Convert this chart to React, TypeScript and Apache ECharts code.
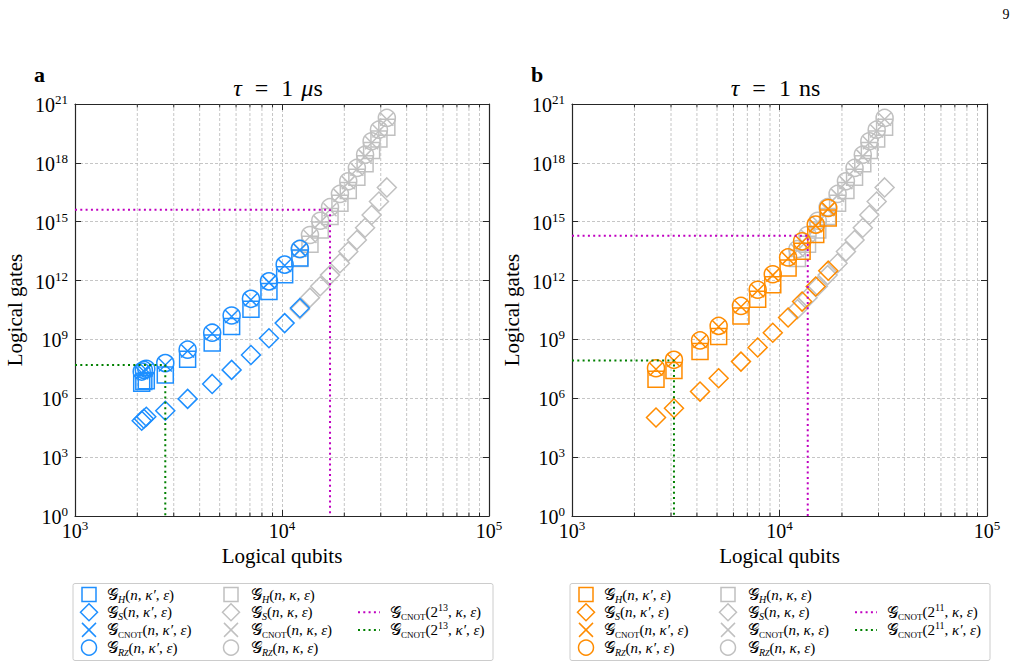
import React, { useEffect, useRef } from "react";
import * as echarts from "echarts";

// Axis ranges (logical qubits, logical gates)
const xMin = 1e3;
const xMax = 1e5;
const yMin = 1;
const yMax = 1e21;
const yDecadeStep = 3;

// Minor log ticks on the qubit axis
const minorMultipliers = [2, 3, 4, 5, 6, 7, 8, 9];
const minorDecades = [1e3, 1e4];

// τ = 1 μs, κ′ instances
const muQubits = [2100, 2150, 2210, 2730, 3500, 4600, 5710, 7080, 8650, 10300, 12200];
const muHadamard = [5.9e6, 7.1e6, 7.9e6, 1.55e7, 9.8e7, 6.5e8, 4.6e9, 3.5e10, 2.75e11, 2.0e12, 1.41e13];
const muPhase = [7.2e4, 9.1e4, 1.15e5, 2.3e5, 9.3e5, 5.4e6, 2.8e7, 1.62e8, 1.15e9, 6.8e9, 4.0e10];
const muCnot = [2.0e7, 2.4e7, 2.75e7, 5.0e7, 2.6e8, 2.0e9, 1.48e10, 1.05e11, 8.1e11, 5.8e12, 3.6e13];
const muRz = [2.3e7, 2.8e7, 3.2e7, 6.2e7, 3.0e8, 2.2e9, 1.66e10, 1.17e11, 9.1e11, 6.5e12, 4.1e13];

// τ = 1 ns, κ′ instances
const nsQubits = [2540, 3100, 4140, 5090, 6520, 7850, 9280, 11000, 12850, 14950, 17180];
const nsHadamard = [9.3e6, 2.6e7, 2.4e8, 1.41e9, 1.58e10, 1.12e11, 6.2e11, 4.4e12, 3.1e13, 2.2e14, 1.55e15];
const nsPhase = [1.05e5, 3.1e5, 2.2e6, 1.05e7, 7.4e7, 3.9e8, 2.2e9, 1.32e10, 8.5e10, 5.0e11, 3.2e12];
const nsCnot = [3.0e7, 8.5e7, 7.9e8, 4.4e9, 4.6e10, 3.0e11, 1.9e12, 1.35e13, 8.9e13, 6.3e14, 4.5e15];
const nsRz = [3.4e7, 9.1e7, 8.9e8, 4.9e9, 5.1e10, 3.4e11, 2.1e12, 1.51e13, 1.0e14, 7.1e14, 5.0e15];

// κ instances (shared by both panels)
const kappaQubits = [12200, 13650, 15300, 17060, 19050, 20900, 23000, 25200, 27100, 29400, 32100];
const kappaHadamard = [1.35e13, 7.1e13, 3.8e14, 1.86e15, 8.7e15, 3.9e16, 1.86e17, 8.9e17, 4.3e18, 1.66e19, 6.6e19];
const kappaPhase = [3.5e10, 1.35e11, 5.1e11, 1.9e12, 7.6e12, 3.0e13, 1.17e14, 4.9e14, 2.2e15, 1.07e16, 5.6e16];
const kappaCnot = [3.4e13, 1.78e14, 9.5e14, 4.1e15, 2.2e16, 9.8e16, 4.7e17, 2.2e18, 1.07e19, 4.2e19, 1.66e20];
const kappaRz = [4.0e13, 2.1e14, 1.12e15, 5.5e15, 2.6e16, 1.15e17, 5.5e17, 2.6e18, 1.26e19, 4.9e19, 1.95e20];

// CNOT reference points: [κ, κ′]
const muRefQubits = [17060, 2730];
const muRefGates = [4.1e15, 5.0e7];
const nsRefQubits = [13680, 3100];
const nsRefGates = [1.95e14, 8.5e7];

const SERIF = '"Liberation Serif", "DejaVu Serif", serif';
const AXIS = "#262626";
const GRID = "#b8b8b8";
const GREY = "#c0c0c0";
const MAGENTA = "#c000c0";
const GREEN = "#008000";

const lg = Math.log10;

const tickRich = {
  b: { fontSize: 20, fontFamily: SERIF, color: "#000", lineHeight: 22, verticalAlign: "bottom" },
  s: { fontSize: 13, fontFamily: SERIF, color: "#000", lineHeight: 16, verticalAlign: "top" },
};
const pow10Label = (v: number) => `{b|10}{s|${Math.round(v)}}`;

const legendRich = {
  g: { fontSize: 16, fontFamily: SERIF, color: "#000", lineHeight: 19, verticalAlign: "middle" },
  t: { fontSize: 15, fontFamily: SERIF, color: "#000", lineHeight: 19, verticalAlign: "middle" },
  i: { fontSize: 15, fontFamily: SERIF, fontStyle: "italic", color: "#000", lineHeight: 19, verticalAlign: "middle" },
  sb: { fontSize: 10, fontFamily: SERIF, fontStyle: "italic", color: "#000", lineHeight: 10, verticalAlign: "bottom" },
  sc: { fontSize: 9, fontFamily: SERIF, color: "#000", lineHeight: 10, verticalAlign: "bottom" },
  ssb: { fontSize: 8, fontFamily: SERIF, fontStyle: "italic", color: "#000", lineHeight: 6, verticalAlign: "bottom" },
  sp: { fontSize: 10, fontFamily: SERIF, color: "#000", lineHeight: 11, verticalAlign: "top" },
};

const args = (k: string) => `{t|(}{i|n}{t|, }{i|${k}}{t|, }{i|ε}{t|)}`;
const gH = (k: string) => `{g|𝒢}{sb|H}${args(k)}`;
const gS = (k: string) => `{g|𝒢}{sb|S}${args(k)}`;
const gC = (k: string) => `{g|𝒢}{sc|CNOT}${args(k)}`;
const gR = (k: string) => `{g|𝒢}{sb|R}{ssb|Z}${args(k)}`;
const gRef = (exp: number, k: string) =>
  `{g|𝒢}{sc|CNOT}{t|(2}{sp|${exp}}{t|, }{i|${k}}{t|, }{i|ε}{t|)}`;

const panels = [
  {
    left: 75, width: 414, color: "#1e8fff", letter: "a", unit: "μ", unitRest: "s", exp: 13,
    qubits: muQubits, H: muHadamard, S: muPhase, C: muCnot, R: muRz,
    refQubits: muRefQubits, refGates: muRefGates, legendLeft: 73,
  },
  {
    left: 572, width: 415, color: "#ff8c00", letter: "b", unit: "", unitRest: "ns", exp: 11,
    qubits: nsQubits, H: nsHadamard, S: nsPhase, C: nsCnot, R: nsRz,
    refQubits: nsRefQubits, refGates: nsRefGates, legendLeft: 570,
  },
];

const GRID_TOP = 104;
const GRID_HEIGHT = 412;

const CROSS = "path://M0 0L10 10M10 0L0 10";

const toPoints = (xs: number[], ys: number[]) => xs.map((x, k) => [lg(x), lg(ys[k])]);

function markerSeries(name: string, xi: number, xs: number[], ys: number[], symbol: string, size: number, color: string, z: number) {
  return {
    name,
    type: "scatter",
    xAxisIndex: xi,
    yAxisIndex: xi,
    data: toPoints(xs, ys),
    symbol,
    symbolSize: size,
    z,
    silent: true,
    itemStyle: { color: "rgba(0,0,0,0)", borderColor: color, borderWidth: 1.5, opacity: 1 },
  };
}

function legendSymbol(kind: string, cx: number, cy: number, color: string) {
  const style = { fill: "none", stroke: color, lineWidth: 1.5 };
  if (kind === "rect") return [{ type: "rect", shape: { x: cx - 7, y: cy - 7, width: 14, height: 14 }, style }];
  if (kind === "diamond")
    return [{ type: "polygon", shape: { points: [[cx, cy - 8.5], [cx + 8.5, cy], [cx, cy + 8.5], [cx - 8.5, cy]] }, style }];
  if (kind === "cross")
    return [
      { type: "line", shape: { x1: cx - 7, y1: cy - 7, x2: cx + 7, y2: cy + 7 }, style },
      { type: "line", shape: { x1: cx + 7, y1: cy - 7, x2: cx - 7, y2: cy + 7 }, style },
    ];
  return [{ type: "circle", shape: { cx, cy, r: 7.5 }, style }];
}

function buildOption() {
  const grid: any[] = [];
  const xAxis: any[] = [];
  const yAxis: any[] = [];
  const series: any[] = [];
  const graphic: any[] = [];

  const minorX = minorDecades.flatMap((d) => minorMultipliers.map((m) => [lg(m * d), lg(yMin)]));

  panels.forEach((p, i) => {
    grid.push({ left: p.left, width: p.width, top: GRID_TOP, height: GRID_HEIGHT, containLabel: false });
    const lineStyle = { color: AXIS, width: 1.2 };
    xAxis.push(
      {
        gridIndex: i, type: "value", min: lg(xMin), max: lg(xMax), interval: 1,
        axisLine: { show: true, onZero: false, lineStyle },
        axisTick: { show: true, inside: true, length: 6, lineStyle: { color: AXIS, width: 1 } },
        axisLabel: { formatter: pow10Label, rich: tickRich, margin: 3 },
        splitLine: { show: true, lineStyle: { type: [3, 2], color: GRID, width: 0.8 } },
        name: "Logical qubits", nameLocation: "middle", nameGap: 23,
        nameTextStyle: { fontFamily: SERIF, fontSize: 21, color: "#000" },
      },
      {
        gridIndex: i, type: "value", position: "top", min: lg(xMin), max: lg(xMax), interval: 1,
        axisLine: { show: true, onZero: false, lineStyle },
        axisTick: { show: true, inside: true, length: 6, lineStyle: { color: AXIS, width: 1 } },
        axisLabel: { show: false }, splitLine: { show: false },
      }
    );
    yAxis.push(
      {
        gridIndex: i, type: "value", min: lg(yMin), max: lg(yMax), interval: yDecadeStep,
        axisLine: { show: true, onZero: false, lineStyle },
        axisTick: { show: true, inside: true, length: 6, lineStyle: { color: AXIS, width: 1 } },
        axisLabel: { formatter: pow10Label, rich: tickRich, margin: 7 },
        splitLine: { show: true, lineStyle: { type: [3, 2], color: GRID, width: 0.8 } },
        name: "Logical gates", nameLocation: "middle", nameGap: 50, nameRotate: 90,
        nameTextStyle: { fontFamily: SERIF, fontSize: 21, color: "#000" },
      },
      {
        gridIndex: i, type: "value", position: "right", min: lg(yMin), max: lg(yMax), interval: yDecadeStep,
        axisLine: { show: true, onZero: false, lineStyle },
        axisTick: { show: true, inside: true, length: 6, lineStyle: { color: AXIS, width: 1 } },
        axisLabel: { show: false }, splitLine: { show: false },
      }
    );

    const xi = i * 2;

    // minor grid lines and ticks of the log qubit axis
    series.push({
      type: "custom", xAxisIndex: xi, yAxisIndex: xi, data: minorX, z: 1, silent: true,
      renderItem: (_params: any, api: any) => {
        const x = api.value(0);
        const b = api.coord([x, lg(yMin)]);
        const t = api.coord([x, lg(yMax)]);
        return {
          type: "group",
          children: [
            { type: "line", shape: { x1: b[0], y1: b[1], x2: t[0], y2: t[1] }, style: { stroke: GRID, lineWidth: 0.8, lineDash: [3, 2] } },
            { type: "line", shape: { x1: b[0], y1: b[1], x2: b[0], y2: b[1] - 3.5 }, style: { stroke: AXIS, lineWidth: 1 } },
            { type: "line", shape: { x1: t[0], y1: t[1], x2: t[0], y2: t[1] + 3.5 }, style: { stroke: AXIS, lineWidth: 1 } },
          ],
        };
      },
    });

    // κ instances
    series.push(
      markerSeries("kH", xi, kappaQubits, kappaHadamard, "rect", 16, GREY, 3),
      markerSeries("kS", xi, kappaQubits, kappaPhase, "diamond", 19, GREY, 3),
      markerSeries("kC", xi, kappaQubits, kappaCnot, CROSS, 13, GREY, 3),
      markerSeries("kR", xi, kappaQubits, kappaRz, "circle", 17, GREY, 3)
    );
    // κ′ instances
    series.push(
      markerSeries("pH", xi, p.qubits, p.H, "rect", 16, p.color, 4),
      markerSeries("pS", xi, p.qubits, p.S, "diamond", 19, p.color, 4),
      markerSeries("pC", xi, p.qubits, p.C, CROSS, 13, p.color, 4),
      markerSeries("pR", xi, p.qubits, p.R, "circle", 17, p.color, 4)
    );

    // dotted reference guides
    [MAGENTA, GREEN].forEach((c, k) => {
      const n = p.refQubits[k];
      const g = p.refGates[k];
      series.push({
        type: "line", xAxisIndex: xi, yAxisIndex: xi, silent: true, z: 5,
        showSymbol: false, symbol: "none",
        data: [[lg(xMin), lg(g)], [lg(n), lg(g)], [lg(n), lg(yMin)]],
        lineStyle: { color: c, width: 2, type: [2, 3.3] },
      });
    });

    // titles and panel letters
    const cx = p.left + p.width / 2;
    const titleRich = {
      t: { fontSize: 24, fontFamily: SERIF, color: "#000" },
      op: { fontSize: 24, fontFamily: SERIF, color: "#000", padding: [0, 13, 0, 13] },
      gap: { fontSize: 24, fontFamily: SERIF, color: "#000", padding: [0, 8, 0, 0] },
      i: { fontSize: 24, fontFamily: SERIF, fontStyle: "italic", color: "#000" },
    };
    graphic.push(
      {
        type: "text", x: cx - 4, y: 88,
        style: {
          text: p.unit
            ? `{i|τ}{op|=}{gap|1}{i|${p.unit}}{t|${p.unitRest}}`
            : `{i|τ}{op|=}{gap|1}{t|${p.unitRest}}`,
          rich: titleRich,
          align: "center", verticalAlign: "middle",
        },
      },
      {
        type: "text", x: p.left - 41, y: 74,
        style: { text: p.letter, fontSize: 22, fontWeight: "bold", fontFamily: SERIF, fill: "#000", verticalAlign: "middle" },
      }
    );

    // legend box
    const L = p.legendLeft;
    const rowY = [594.5, 612.2, 629.9, 647.6];
    graphic.push({
      type: "rect", shape: { x: L, y: 583.5, width: 420, height: 77, r: 2 },
      style: { fill: "#fff", stroke: "#cccccc", lineWidth: 1 }, z: 10,
    });
    const kinds = ["rect", "diamond", "cross", "circle"];
    const primeTexts = [gH("κ′"), gS("κ′"), gC("κ′"), gR("κ′")];
    const kappaTexts = [gH("κ"), gS("κ"), gC("κ"), gR("κ")];
    kinds.forEach((kind, r) => {
      legendSymbol(kind, L + 16, rowY[r], p.color).forEach((el) => graphic.push({ ...el, z: 11 }));
      legendSymbol(kind, L + 158, rowY[r], GREY).forEach((el) => graphic.push({ ...el, z: 11 }));
      graphic.push(
        { type: "text", x: L + 34, y: rowY[r], z: 11, style: { text: primeTexts[r], rich: legendRich, verticalAlign: "middle" } },
        { type: "text", x: L + 178, y: rowY[r], z: 11, style: { text: kappaTexts[r], rich: legendRich, verticalAlign: "middle" } }
      );
    });
    [MAGENTA, GREEN].forEach((c, k) => {
      const y = rowY[k + 1];
      graphic.push(
        { type: "line", z: 11, shape: { x1: L + 285, y1: y, x2: L + 307, y2: y }, style: { stroke: c, lineWidth: 2, lineDash: [2, 3.3] } },
        { type: "text", x: L + 317, y, z: 11, style: { text: gRef(p.exp, k === 0 ? "κ" : "κ′"), rich: legendRich, verticalAlign: "middle" } }
      );
    });
  });

  graphic.push({
    type: "text", x: 1006, y: 14,
    style: { text: "9", fontSize: 14, fontFamily: SERIF, fill: "#000", align: "center", verticalAlign: "middle" },
  });

  return { animation: false, backgroundColor: "#fff", grid, xAxis, yAxis, series, graphic };
}

export default function App() {
  const ref = useRef<HTMLDivElement>(null);
  useEffect(() => {
    if (!ref.current) return;
    const chart = echarts.init(ref.current, undefined, { renderer: "svg" });
    chart.setOption(buildOption() as any);
    return () => chart.dispose();
  }, []);
  return (
    <div
      ref={ref}
      style={{ position: "fixed", left: 0, top: 0, width: 1018, height: 667, background: "#fff" }}
    />
  );
}
